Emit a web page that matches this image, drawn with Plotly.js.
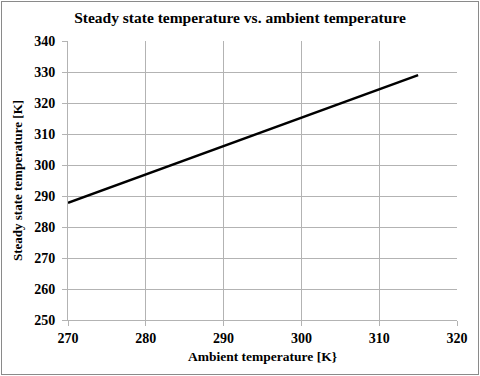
<!DOCTYPE html>
<html>
<head>
<meta charset="utf-8">
<script src="https://cdn.plot.ly/plotly-3.0.1.min.js"></script>
<style>
	html, body { margin: 0; padding: 0; background: #fff; }
	#wrap { position: relative; width: 480px; height: 376px; }
	#chart { width: 480px; height: 376px; }
	#frame {
		position: absolute; left: 1px; top: 1px; right: 1px; bottom: 1px;
		border: 1px solid #8a8a8a; pointer-events: none;
	}
</style>
</head>
<body>
<div id="wrap">
	<div id="chart"></div>
	<div id="frame"></div>
</div>
<script>
(function () {

	'use strict';

	// ambient temperature [K]
	const ambientTemp = [270, 275, 280, 285, 290, 295, 300, 305, 310, 315];
	// steady state temperature [K]
	const steadyTemp = [287.8, 292.4, 296.9, 301.5, 306.1, 310.6, 315.2, 319.8, 324.4, 329.0];

	const xTicks = [270, 280, 290, 300, 310, 320];
	const yTicks = [250, 260, 270, 280, 290, 300, 310, 320, 330, 340];

	const serif = 'Liberation Serif, serif';
	const gridGrey = '#b3b3b3';

	const bold = ( v ) => '<b>' + v + '</b>';

	const trace = {
		x: ambientTemp,
		y: steadyTemp,
		type: 'scatter',
		mode: 'lines',
		line: { color: '#000', width: 2.5 },
		showlegend: false,
		hoverinfo: 'skip',
	};

	const axisCommon = {
		showgrid: true,
		gridcolor: gridGrey,
		gridwidth: 1,
		showline: true,
		linecolor: gridGrey,
		linewidth: 1,
		mirror: false,
		zeroline: false,
		ticks: 'outside',
		ticklen: 5,
		tickcolor: gridGrey,
		tickfont: { family: serif, size: 14, color: '#000', weight: 'bold' },
		fixedrange: true,
	};

	const layout = {
		width: 480,
		height: 376,
		margin: { l: 68, r: 23, t: 41, b: 56 },
		paper_bgcolor: '#fff',
		plot_bgcolor: '#fff',
		font: { family: serif, color: '#000' },
		title: {
			text: bold('Steady state temperature vs. ambient temperature'),
			font: { family: serif, size: 15.5, color: '#000' },
			x: 0.5,
			xanchor: 'center',
			y: 0.953,
			yanchor: 'middle',
		},
		xaxis: Object.assign({}, axisCommon, {
			range: [270, 320],
			tickvals: xTicks,
			ticktext: xTicks.map(bold),
			title: {
				text: bold('Ambient temperature [K}'),
				font: { family: serif, size: 13.5, color: '#000' },
				standoff: 6,
			},
		}),
		yaxis: Object.assign({}, axisCommon, {
			range: [250, 340],
			tickvals: yTicks,
			ticktext: yTicks.map(bold),
			ticklabelstandoff: 4,
			title: {
				text: bold('Steady state temperature [K]'),
				font: { family: serif, size: 13, color: '#000' },
				standoff: 8,
			},
		}),
	};

	Plotly.newPlot('chart', [trace], layout, { displayModeBar: false, staticPlot: true });

})();
</script>
</body>
</html>
